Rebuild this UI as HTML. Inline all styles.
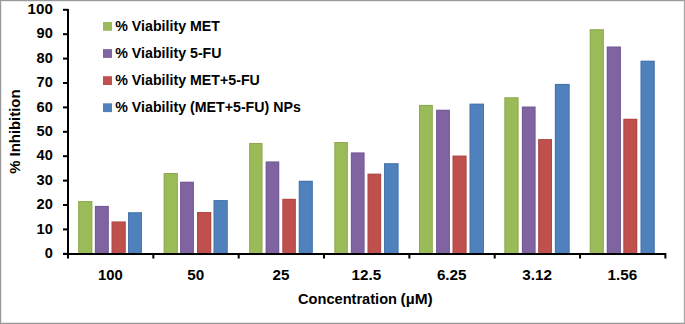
<!DOCTYPE html>
<html><head><meta charset="utf-8"><style>
html,body{margin:0;padding:0;background:#fff;}
svg{display:block;}
text{font-family:"Liberation Sans",sans-serif;font-weight:bold;fill:#000;}
</style></head><body>
<svg width="685" height="324" viewBox="0 0 685 324">
<rect x="0" y="0" width="685" height="324" fill="#fff"/>
<rect x="78.20" y="201.05" width="14.1" height="52.45" fill="#9BBB59"/>
<rect x="78.70" y="201.55" width="13.1" height="52.45" fill="none" stroke="#7F9A48" stroke-width="1" stroke-opacity="0.5"/>
<rect x="94.90" y="205.93" width="13.9" height="47.57" fill="#8064A2"/>
<rect x="95.40" y="206.43" width="12.9" height="47.57" fill="none" stroke="#6A5388" stroke-width="1" stroke-opacity="0.5"/>
<rect x="111.60" y="221.55" width="14.1" height="31.95" fill="#C0504D"/>
<rect x="112.10" y="222.05" width="13.1" height="31.95" fill="none" stroke="#A0403D" stroke-width="1" stroke-opacity="0.5"/>
<rect x="128.00" y="212.28" width="14.0" height="41.22" fill="#4F81BD"/>
<rect x="128.50" y="212.78" width="13.0" height="41.22" fill="none" stroke="#3F6A9C" stroke-width="1" stroke-opacity="0.5"/>
<rect x="163.70" y="172.99" width="14.1" height="80.51" fill="#9BBB59"/>
<rect x="164.20" y="173.49" width="13.1" height="80.51" fill="none" stroke="#7F9A48" stroke-width="1" stroke-opacity="0.5"/>
<rect x="180.10" y="181.78" width="13.8" height="71.72" fill="#8064A2"/>
<rect x="180.60" y="182.28" width="12.8" height="71.72" fill="none" stroke="#6A5388" stroke-width="1" stroke-opacity="0.5"/>
<rect x="197.00" y="212.03" width="14.2" height="41.47" fill="#C0504D"/>
<rect x="197.50" y="212.53" width="13.2" height="41.47" fill="none" stroke="#A0403D" stroke-width="1" stroke-opacity="0.5"/>
<rect x="213.60" y="200.08" width="14.1" height="53.42" fill="#4F81BD"/>
<rect x="214.10" y="200.58" width="13.1" height="53.42" fill="none" stroke="#3F6A9C" stroke-width="1" stroke-opacity="0.5"/>
<rect x="249.20" y="142.98" width="13.2" height="110.52" fill="#9BBB59"/>
<rect x="249.70" y="143.48" width="12.2" height="110.52" fill="none" stroke="#7F9A48" stroke-width="1" stroke-opacity="0.5"/>
<rect x="265.70" y="161.52" width="13.5" height="91.98" fill="#8064A2"/>
<rect x="266.20" y="162.02" width="12.5" height="91.98" fill="none" stroke="#6A5388" stroke-width="1" stroke-opacity="0.5"/>
<rect x="282.40" y="198.86" width="13.4" height="54.64" fill="#C0504D"/>
<rect x="282.90" y="199.36" width="12.4" height="54.64" fill="none" stroke="#A0403D" stroke-width="1" stroke-opacity="0.5"/>
<rect x="298.80" y="180.80" width="14.0" height="72.70" fill="#4F81BD"/>
<rect x="299.30" y="181.30" width="13.0" height="72.70" fill="none" stroke="#3F6A9C" stroke-width="1" stroke-opacity="0.5"/>
<rect x="334.40" y="142.00" width="13.4" height="111.50" fill="#9BBB59"/>
<rect x="334.90" y="142.50" width="12.4" height="111.50" fill="none" stroke="#7F9A48" stroke-width="1" stroke-opacity="0.5"/>
<rect x="350.90" y="152.50" width="13.6" height="101.00" fill="#8064A2"/>
<rect x="351.40" y="153.00" width="12.6" height="101.00" fill="none" stroke="#6A5388" stroke-width="1" stroke-opacity="0.5"/>
<rect x="367.60" y="173.72" width="13.5" height="79.78" fill="#C0504D"/>
<rect x="368.10" y="174.22" width="12.5" height="79.78" fill="none" stroke="#A0403D" stroke-width="1" stroke-opacity="0.5"/>
<rect x="384.00" y="163.23" width="14.5" height="90.27" fill="#4F81BD"/>
<rect x="384.50" y="163.73" width="13.5" height="90.27" fill="none" stroke="#3F6A9C" stroke-width="1" stroke-opacity="0.5"/>
<rect x="419.00" y="104.92" width="13.8" height="148.58" fill="#9BBB59"/>
<rect x="419.50" y="105.42" width="12.8" height="148.58" fill="none" stroke="#7F9A48" stroke-width="1" stroke-opacity="0.5"/>
<rect x="436.10" y="109.80" width="13.8" height="143.70" fill="#8064A2"/>
<rect x="436.60" y="110.30" width="12.8" height="143.70" fill="none" stroke="#6A5388" stroke-width="1" stroke-opacity="0.5"/>
<rect x="452.60" y="155.67" width="13.9" height="97.83" fill="#C0504D"/>
<rect x="453.10" y="156.17" width="12.9" height="97.83" fill="none" stroke="#A0403D" stroke-width="1" stroke-opacity="0.5"/>
<rect x="469.60" y="103.70" width="14.4" height="149.80" fill="#4F81BD"/>
<rect x="470.10" y="104.20" width="13.4" height="149.80" fill="none" stroke="#3F6A9C" stroke-width="1" stroke-opacity="0.5"/>
<rect x="504.40" y="97.35" width="14.1" height="156.15" fill="#9BBB59"/>
<rect x="504.90" y="97.85" width="13.1" height="156.15" fill="none" stroke="#7F9A48" stroke-width="1" stroke-opacity="0.5"/>
<rect x="521.90" y="106.62" width="13.6" height="146.88" fill="#8064A2"/>
<rect x="522.40" y="107.12" width="12.6" height="146.88" fill="none" stroke="#6A5388" stroke-width="1" stroke-opacity="0.5"/>
<rect x="538.20" y="139.08" width="13.8" height="114.42" fill="#C0504D"/>
<rect x="538.70" y="139.58" width="12.8" height="114.42" fill="none" stroke="#A0403D" stroke-width="1" stroke-opacity="0.5"/>
<rect x="554.90" y="83.93" width="14.7" height="169.57" fill="#4F81BD"/>
<rect x="555.40" y="84.43" width="13.7" height="169.57" fill="none" stroke="#3F6A9C" stroke-width="1" stroke-opacity="0.5"/>
<rect x="589.80" y="29.28" width="14.0" height="224.22" fill="#9BBB59"/>
<rect x="590.30" y="29.78" width="13.0" height="224.22" fill="none" stroke="#7F9A48" stroke-width="1" stroke-opacity="0.5"/>
<rect x="606.80" y="46.60" width="14.1" height="206.90" fill="#8064A2"/>
<rect x="607.30" y="47.10" width="13.1" height="206.90" fill="none" stroke="#6A5388" stroke-width="1" stroke-opacity="0.5"/>
<rect x="623.40" y="118.82" width="13.8" height="134.68" fill="#C0504D"/>
<rect x="623.90" y="119.32" width="12.8" height="134.68" fill="none" stroke="#A0403D" stroke-width="1" stroke-opacity="0.5"/>
<rect x="640.60" y="60.75" width="14.1" height="192.75" fill="#4F81BD"/>
<rect x="641.10" y="61.25" width="13.1" height="192.75" fill="none" stroke="#3F6A9C" stroke-width="1" stroke-opacity="0.5"/>
<rect x="67" y="9" width="2" height="246" fill="#000"/>
<rect x="63" y="253" width="603" height="2" fill="#000"/>
<rect x="63" y="252.80" width="5" height="2" fill="#000"/>
<rect x="63" y="228.40" width="5" height="2" fill="#000"/>
<rect x="63" y="204.00" width="5" height="2" fill="#000"/>
<rect x="63" y="179.60" width="5" height="2" fill="#000"/>
<rect x="63" y="155.20" width="5" height="2" fill="#000"/>
<rect x="63" y="130.80" width="5" height="2" fill="#000"/>
<rect x="63" y="106.40" width="5" height="2" fill="#000"/>
<rect x="63" y="82.00" width="5" height="2" fill="#000"/>
<rect x="63" y="57.60" width="5" height="2" fill="#000"/>
<rect x="63" y="33.20" width="5" height="2" fill="#000"/>
<rect x="63" y="8.80" width="5" height="2" fill="#000"/>
<rect x="67.00" y="253" width="2" height="5.5" fill="#000"/>
<rect x="152.34" y="253" width="2" height="5.5" fill="#000"/>
<rect x="237.68" y="253" width="2" height="5.5" fill="#000"/>
<rect x="323.02" y="253" width="2" height="5.5" fill="#000"/>
<rect x="408.36" y="253" width="2" height="5.5" fill="#000"/>
<rect x="493.70" y="253" width="2" height="5.5" fill="#000"/>
<rect x="579.04" y="253" width="2" height="5.5" fill="#000"/>
<rect x="664.38" y="253" width="2" height="5.5" fill="#000"/>
<text transform="translate(52.8,258.00) scale(1.04,1)" text-anchor="end" font-size="14" font-family="Liberation Sans, sans-serif" font-weight="bold">0</text>
<text transform="translate(52.8,233.60) scale(1.04,1)" text-anchor="end" font-size="14" font-family="Liberation Sans, sans-serif" font-weight="bold">10</text>
<text transform="translate(52.8,209.20) scale(1.04,1)" text-anchor="end" font-size="14" font-family="Liberation Sans, sans-serif" font-weight="bold">20</text>
<text transform="translate(52.8,184.80) scale(1.04,1)" text-anchor="end" font-size="14" font-family="Liberation Sans, sans-serif" font-weight="bold">30</text>
<text transform="translate(52.8,160.40) scale(1.04,1)" text-anchor="end" font-size="14" font-family="Liberation Sans, sans-serif" font-weight="bold">40</text>
<text transform="translate(52.8,136.00) scale(1.04,1)" text-anchor="end" font-size="14" font-family="Liberation Sans, sans-serif" font-weight="bold">50</text>
<text transform="translate(52.8,111.60) scale(1.04,1)" text-anchor="end" font-size="14" font-family="Liberation Sans, sans-serif" font-weight="bold">60</text>
<text transform="translate(52.8,87.20) scale(1.04,1)" text-anchor="end" font-size="14" font-family="Liberation Sans, sans-serif" font-weight="bold">70</text>
<text transform="translate(52.8,62.80) scale(1.04,1)" text-anchor="end" font-size="14" font-family="Liberation Sans, sans-serif" font-weight="bold">80</text>
<text transform="translate(52.8,38.40) scale(1.04,1)" text-anchor="end" font-size="14" font-family="Liberation Sans, sans-serif" font-weight="bold">90</text>
<text transform="translate(52.8,14.00) scale(1.08,1)" text-anchor="end" font-size="14" font-family="Liberation Sans, sans-serif" font-weight="bold">100</text>
<text transform="translate(110.37,279.7) scale(1.06,1)" text-anchor="middle" font-size="14" font-family="Liberation Sans, sans-serif" font-weight="bold">100</text>
<text transform="translate(195.71,279.7) scale(1.09,1)" text-anchor="middle" font-size="14" font-family="Liberation Sans, sans-serif" font-weight="bold">50</text>
<text transform="translate(281.05,279.7) scale(1.09,1)" text-anchor="middle" font-size="14" font-family="Liberation Sans, sans-serif" font-weight="bold">25</text>
<text transform="translate(366.39,279.7) scale(1.09,1)" text-anchor="middle" font-size="14" font-family="Liberation Sans, sans-serif" font-weight="bold">12.5</text>
<text transform="translate(451.73,279.7) scale(1.09,1)" text-anchor="middle" font-size="14" font-family="Liberation Sans, sans-serif" font-weight="bold">6.25</text>
<text transform="translate(537.07,279.7) scale(1.09,1)" text-anchor="middle" font-size="14" font-family="Liberation Sans, sans-serif" font-weight="bold">3.12</text>
<text transform="translate(622.41,279.7) scale(1.09,1)" text-anchor="middle" font-size="14" font-family="Liberation Sans, sans-serif" font-weight="bold">1.56</text>
<rect x="103" y="22.00" width="9" height="8.8" fill="#9BBB59"/>
<text transform="translate(115.3,31.10) scale(1.015,1)" font-size="14" font-family="Liberation Sans, sans-serif" font-weight="bold">% Viability MET</text>
<rect x="103" y="49.10" width="9" height="8.8" fill="#8064A2"/>
<text transform="translate(115.3,58.20) scale(1.015,1)" font-size="14" font-family="Liberation Sans, sans-serif" font-weight="bold">% Viability 5-FU</text>
<rect x="103" y="76.20" width="9" height="8.8" fill="#C0504D"/>
<text transform="translate(115.3,85.30) scale(1.015,1)" font-size="14" font-family="Liberation Sans, sans-serif" font-weight="bold">% Viability MET+5-FU</text>
<rect x="103" y="103.30" width="9" height="8.8" fill="#4F81BD"/>
<text transform="translate(115.3,112.40) scale(1.015,1)" font-size="14" font-family="Liberation Sans, sans-serif" font-weight="bold">% Viability (MET+5-FU) NPs</text>
<text transform="translate(347.5,304) scale(1.008,1)" text-anchor="middle" font-size="14.5" font-family="Liberation Sans, sans-serif" font-weight="bold">Concentration</text>
<text transform="translate(416.65,304) scale(1.07,1)" text-anchor="middle" font-size="14.5" font-family="Liberation Sans, sans-serif" font-weight="bold">(µM)</text>
<text transform="translate(19.5,131.65) rotate(-90) scale(1.063,1)" x="0" y="0" text-anchor="middle" font-size="14" font-family="Liberation Sans, sans-serif" font-weight="bold">% Inhibition</text>
<rect x="0" y="1" width="685" height="1" fill="#e8e8e8"/>
<rect x="1" y="0" width="1" height="324" fill="#e8e8e8"/>
<rect x="683" y="0" width="1" height="324" fill="#f0f0f0"/>
<rect x="0" y="322" width="685" height="1" fill="#e4e4e4"/>
<rect x="0" y="0" width="685" height="1" fill="#9a9a9a"/>
<rect x="0" y="0" width="1" height="324" fill="#9a9a9a"/>
<rect x="684" y="0" width="1" height="324" fill="#a8a8a8"/>
<rect x="0" y="323" width="685" height="1" fill="#9a9a9a"/>
</svg>
</body></html>
